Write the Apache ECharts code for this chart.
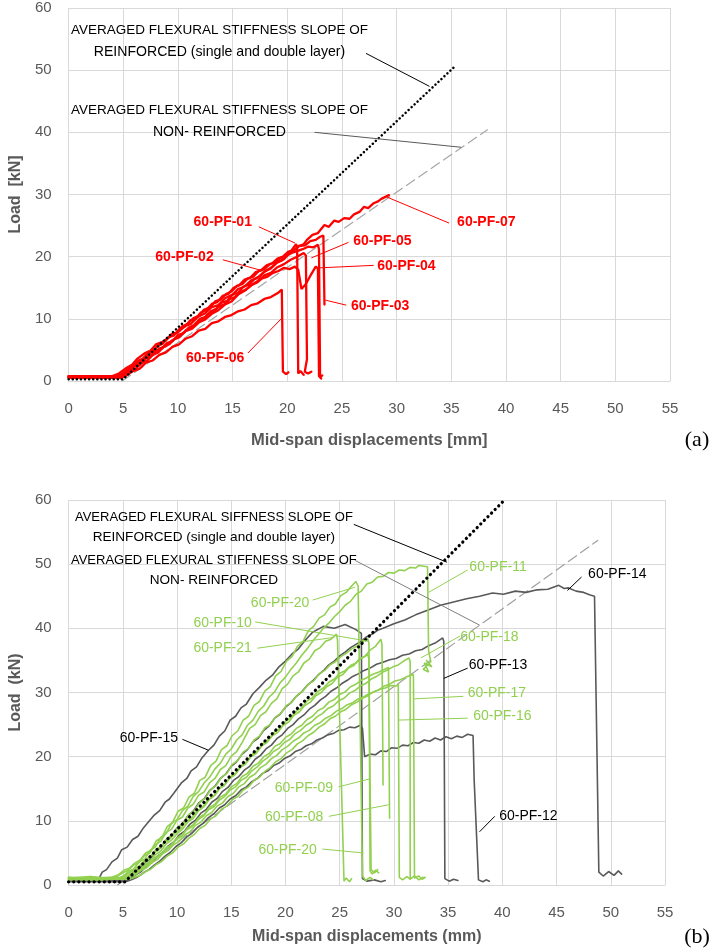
<!DOCTYPE html>
<html lang="en">
<head>
<meta charset="UTF-8">
<title>Load - mid-span displacement</title>
<script src="https://cdn.jsdelivr.net/npm/echarts@6/dist/echarts.min.js"></script>
<style>
    html, body { margin: 0; padding: 0; background: #ffffff; }
    #main { width: 717px; height: 952px; }
</style>
</head>
<body>
<div id="main"></div>
<script type="text/javascript">
// ---- axis ticks ----
var xTicks = [0, 55, 5];      // min, max, step (mm)
var yTicks = [0, 60, 10];     // min, max, step (kN)

// ---- (a) reference slopes ----
var aReinforced = [[0, 0.3], [5, 0.3], [35.2, 50.4]];
var aNonReinforced = [[4.9, 0], [38.3, 40.4]];

// ---- (a) red specimens ----
var pf01 = [[0,0.8],[4,0.8],[4.6,1.2],[5.2,2.0],[5.8,2.6],[6.3,3.6],[7,4.5],[7.5,4.9],[8,5.9],[8.6,6.3],[9.4,7.3],[10,7.8],[10.6,8.8],[11.2,9.2],[11.8,10.3],[12.5,10.9],[13.1,11.9],[13.7,12.2],[14.3,13.3],[15,13.9],[15.5,14.8],[16.1,15.2],[16.7,16.2],[17.3,16.6],[17.9,17.6],[18.5,18.1],[19.1,19.1],[19.7,19.6],[20.3,20.8],[20.8,22],[20.9,21.5],[21.0,1.2],[21.2,1.6],[21.5,1.0]];
var pf02 = [[0,0.6],[4.3,0.6],[4.8,1.0],[5.4,1.6],[6,2.4],[6.5,2.9],[7.1,3.8],[7.7,4.2],[8.3,5.2],[8.9,5.6],[9.5,6.6],[10.1,7.0],[10.7,8.0],[11.3,8.4],[11.9,9.4],[12.5,9.9],[13.1,10.8],[13.7,11.4],[14.3,12.3],[14.9,12.8],[15.5,13.9],[16.1,14.5],[16.7,15.4],[17.3,16.1],[17.9,17.0],[18.5,17.4],[19.1,18.3],[19.7,18.8],[20.3,19.5],[20.9,20.0],[21.5,20.6],[21.7,20.2],[21.8,3.5],[21.6,1.5],[21.9,1.2],[22.2,1.5]];
var pf03 = [[0,0.7],[4.6,0.7],[5.1,1.3],[5.6,1.8],[6.1,2.8],[6.6,3.2],[7.1,4.2],[7.6,4.6],[8.1,5.6],[8.6,6.0],[9.1,7.0],[9.6,7.3],[10.1,8.3],[10.6,8.7],[11.1,9.7],[11.6,10.0],[12.1,11.0],[12.6,11.4],[13.1,12.4],[13.6,12.7],[14.1,13.7],[14.6,14.0],[15.1,15.0],[15.6,15.4],[16.1,16.3],[16.6,16.6],[17.1,17.5],[17.6,17.8],[18.1,18.6],[18.6,18.9],[19.1,19.7],[19.6,20.0],[20.1,20.8],[20.6,21.0],[21.1,21.7],[21.6,21.8],[22.1,22.5],[22.6,22.7],[23.0,23.2],[23.3,23.4],[23.4,12.3]];
var pf04 = [[0,0.6],[4.7,0.6],[5.2,1.0],[5.7,1.6],[6.2,2.1],[6.7,2.9],[7.2,3.3],[7.7,4.2],[8.2,4.6],[8.7,5.5],[9.2,5.9],[9.7,6.8],[10.2,7.2],[10.7,8.1],[11.2,8.5],[11.7,9.4],[12.2,9.8],[12.7,10.7],[13.2,11.1],[13.7,11.9],[14.2,12.3],[14.7,13.1],[15.2,13.5],[15.7,14.3],[16.2,14.7],[16.7,15.4],[17.2,15.8],[17.7,16.5],[18.2,16.8],[18.7,17.4],[19.2,17.7],[19.7,18.2],[20.2,18.0],[20.7,18.4],[21.0,17.9],[21.3,14.8],[21.7,15.6],[22.1,16.9],[22.4,17.8],[22.6,18.4],[22.8,18.1],[22.9,0.8],[23.1,0.4]];
var pf05 = [[0,0.8],[4.4,0.7],[4.9,1.2],[5.4,1.9],[5.9,2.4],[6.4,3.3],[6.9,3.7],[7.4,4.7],[7.9,5.1],[8.4,6.1],[8.9,6.5],[9.4,7.5],[9.9,7.8],[10.4,8.8],[10.9,9.2],[11.4,10.1],[11.9,10.5],[12.4,11.5],[12.9,11.8],[13.4,12.8],[13.9,13.1],[14.4,14.0],[14.9,14.4],[15.4,15.3],[15.9,15.6],[16.4,16.5],[16.9,16.8],[17.4,17.7],[17.9,18.0],[18.4,18.8],[18.9,19.1],[19.4,19.8],[19.9,20.1],[20.4,20.6],[20.9,20.9],[21.4,21.2],[21.9,21.6],[22.4,21.5],[22.8,21.9],[22.9,21.2],[23.0,0.6],[23.2,0.9]];
var pf06 = [[0,0.5],[4.8,0.5],[5.3,0.9],[5.9,1.6],[6.5,2.0],[7.1,3.0],[7.7,3.3],[8.3,4.2],[8.9,4.6],[9.5,5.5],[10.1,5.9],[10.7,6.8],[11.3,7.2],[11.9,8.1],[12.5,8.4],[13.1,9.3],[13.7,9.6],[14.3,10.3],[14.9,10.6],[15.5,11.2],[16.1,11.5],[16.7,12.2],[17.3,12.5],[17.9,13.2],[18.5,13.5],[19.1,14.1],[19.5,14.7],[19.6,1.5],[19.9,1.1],[20.1,1.4]];
var pf07 = [[0,0.7],[2,0.6],[4.5,0.7],[5,1.2],[5.5,1.6],[6,2.4],[6.5,2.6],[7,3.6],[7.5,3.9],[8,4.9],[8.5,5.2],[9,6.1],[9.5,6.4],[10,7.4],[10.5,7.7],[11,8.6],[11.5,9.0],[12,10.0],[12.5,10.3],[13,11.2],[13.5,11.6],[14,12.6],[14.5,12.9],[15,13.9],[15.5,14.2],[16,15.2],[16.5,15.5],[17,16.4],[17.5,16.9],[18,17.7],[18.5,18.2],[19,19.0],[19.5,19.4],[20,20.4],[20.5,20.8],[21,21.7],[21.5,22.0],[21.8,22.7],[22.3,23.5],[22.8,23.8],[23.4,25.1],[23.8,24.8],[24.3,25.8],[24.7,25.6],[25.2,26.2],[25.7,26.1],[26.1,26.8],[26.6,27.2],[27,28],[27.4,27.8],[27.9,28.6],[28.3,28.9],[28.6,29.3],[29.3,29.9]];

// ---- (b) reference slopes ----
var bReinforced = [[0, 0.5], [5.2, 0.5], [40.2, 60]];
var bNonReinforced = [[4.5, 0], [48.8, 53.7]];

// ---- (b) green specimens ----
var pf08 = [[0,0.9],[3.5,1.1],[5,0.9],[5.5,1.2],[6,1.7],[6.5,2.1],[7,2.9],[7.5,3.4],[8,4.3],[8.5,4.8],[9,5.8],[9.5,6.3],[10,7.3],[10.5,7.9],[11,8.9],[11.5,9.4],[12,10.5],[12.5,11.0],[13,12.1],[13.5,12.6],[14,13.7],[14.5,14.2],[15,15.3],[15.5,15.8],[16,16.9],[16.5,17.4],[17,18.5],[17.5,19.0],[18,20.0],[18.5,20.5],[19,21.6],[19.5,22.0],[20,23.0],[20.5,23.5],[21,24.4],[21.5,24.9],[22,25.8],[22.5,26.3],[23,27.2],[23.5,27.6],[24,28.5],[24.5,28.9],[25,29.7],[25.5,30.1],[26,30.9],[26.5,31.3],[27,31.9],[27.5,32.3],[28,32.8],[28.5,33.1],[29,33.5],[29.5,33.9],[29.6,10.4]];
var pf09 = [[0,1.0],[3,0.8],[5,1.0],[5.5,1.4],[6,1.9],[6.5,2.3],[7,3.2],[7.5,3.7],[8,4.7],[8.5,5.3],[9,6.4],[9.5,7.0],[10,8.0],[10.5,8.7],[11,9.8],[11.5,10.4],[12,11.6],[12.5,12.2],[13,13.4],[13.5,14.0],[14,15.2],[14.5,15.8],[15,17.0],[15.5,17.5],[16,18.7],[16.5,19.3],[17,20.5],[17.5,21.0],[18,22.2],[18.5,22.8],[19,23.9],[19.5,24.4],[20,25.5],[20.5,26.1],[21,27.1],[21.5,27.6],[22,28.7],[22.5,29.2],[23,30.2],[23.5,30.7],[24,31.6],[24.5,32.1],[25,33.0],[25.5,33.4],[26,34.2],[26.5,34.6],[27,35.3],[27.6,35.9],[27.7,35.2],[27.8,16.4],[27.9,2.4],[28.2,1.9],[28.5,2.4]];
var pf10 = [[0,0.9],[2.5,1.1],[4.6,0.9],[5.1,1.4],[5.6,1.9],[6.1,2.6],[6.6,3.1],[7.1,4.0],[7.6,4.5],[8.1,5.6],[8.6,6.1],[9.1,7.3],[9.6,7.9],[10.1,9.1],[10.6,9.7],[11.1,11.0],[11.6,11.6],[12.1,12.9],[12.6,13.5],[13.1,14.9],[13.6,15.5],[14.1,16.8],[14.6,17.4],[15.1,18.8],[15.6,19.4],[16.1,20.7],[16.6,21.3],[17.1,22.6],[17.6,23.2],[18.1,24.5],[18.6,25.0],[19.1,26.2],[19.6,26.8],[20.1,28.0],[20.6,28.5],[21.1,29.6],[21.6,30.2],[22.1,31.3],[22.6,31.8],[23.1,32.9],[23.6,33.4],[24.1,34.3],[24.6,34.8],[25.1,35.6],[25.6,36.1],[26.1,36.8],[26.6,37.2],[27.1,37.9],[27.6,38.4],[27.7,37.6],[27.8,2.2],[28.0,1.7],[28.3,2.3],[28.6,1.9]];
var pf11 = [[0,1.0],[2,0.8],[4.5,1.0],[5,1.3],[5.5,2.1],[6,2.5],[6.5,3.6],[7,4.0],[7.5,5.4],[8,5.9],[8.5,7.4],[9,8.0],[9.5,9.6],[10,10.2],[10.5,11.6],[11,12.3],[11.5,13.8],[12,14.6],[12.5,15.9],[13,16.8],[13.5,18.1],[14,19.0],[14.5,20.4],[15,21.2],[15.5,22.6],[16,23.4],[16.5,24.9],[17,25.7],[17.5,27.1],[18,27.9],[18.5,29.3],[19,30.1],[19.5,31.5],[20,32.4],[20.5,33.6],[21,34.6],[21.5,35.8],[22,36.8],[22.5,38.0],[23,39.0],[23.5,40.0],[24,40.8],[24.5,41.8],[25,42.6],[25.5,43.6],[26,44.2],[26.5,45.3],[27,45.8],[27.5,46.9],[28,47.2],[28.5,48.0],[29,48.1],[29.5,48.7],[30,48.6],[30.5,49.1],[31,49.0],[31.5,49.5],[32,49.4],[32.3,49.8],[33.1,49.6],[33.2,36.5],[33.4,34.8],[32.7,33.6],[33.2,33.2],[32.8,34.6],[33.5,34.0],[33.0,35.0]];
var pf16 = [[0,1.1],[4,0.9],[5.2,1.0],[5.7,1.3],[6.2,1.6],[6.7,2.3],[7.2,2.7],[7.7,3.5],[8.2,4.0],[8.7,4.9],[9.2,5.4],[9.7,6.3],[10.2,6.8],[10.7,7.8],[11.2,8.3],[11.7,9.3],[12.2,9.8],[12.7,10.8],[13.2,11.3],[13.7,12.3],[14.2,12.8],[14.7,13.8],[15.2,14.3],[15.7,15.3],[16.2,15.8],[16.7,16.8],[17.2,17.3],[17.7,18.3],[18.2,18.8],[18.7,19.7],[19.2,20.2],[19.7,21.1],[20.2,21.6],[20.7,22.4],[21.2,22.9],[21.7,23.7],[22.2,24.1],[22.7,24.9],[23.2,25.3],[23.7,26.0],[24.2,26.4],[24.7,27.1],[25.2,27.5],[25.7,28.1],[26.2,28.4],[26.7,29.0],[27.2,29.3],[27.7,29.8],[28.2,30.1],[28.7,30.5],[29.2,30.7],[29.7,31.1],[30.2,31.0],[30.4,31.3],[30.5,1.2],[30.8,0.8],[31.2,1.3],[31.5,0.9]];
var pf17 = [[0,0.8],[4.4,1.0],[5.6,0.9],[6.1,1.2],[6.6,1.5],[7.1,2.1],[7.6,2.5],[8.1,3.2],[8.6,3.7],[9.1,4.5],[9.6,5.0],[10.1,5.9],[10.6,6.4],[11.1,7.3],[11.6,7.9],[12.1,8.8],[12.6,9.3],[13.1,10.3],[13.6,10.8],[14.1,11.8],[14.6,12.3],[15.1,13.3],[15.6,13.8],[16.1,14.8],[16.6,15.3],[17.1,16.3],[17.6,16.8],[18.1,17.7],[18.6,18.3],[19.1,19.2],[19.6,19.7],[20.1,20.6],[20.6,21.1],[21.1,22.0],[21.6,22.5],[22.1,23.3],[22.6,23.8],[23.1,24.6],[23.6,25.1],[24.1,25.9],[24.6,26.3],[25.1,27.0],[25.6,27.4],[26.1,28.1],[26.6,28.5],[27.1,29.1],[27.6,29.5],[28.1,30.1],[28.6,30.4],[29.1,31.0],[29.6,31.3],[30.1,31.8],[30.6,32.0],[31.1,32.4],[31.8,32.8],[31.9,1.1],[32.3,1.4],[32.6,0.9],[32.9,1.2]];
var pf18 = [[0,1.0],[4.2,1.2],[5.4,1.1],[5.9,1.5],[6.4,2.0],[6.9,2.7],[7.4,3.2],[7.9,4.1],[8.4,4.6],[8.9,5.5],[9.4,6.1],[9.9,7.0],[10.4,7.6],[10.9,8.6],[11.4,9.1],[11.9,10.1],[12.4,10.7],[12.9,11.7],[13.4,12.2],[13.9,13.2],[14.4,13.8],[14.9,14.8],[15.4,15.3],[15.9,16.3],[16.4,16.8],[16.9,17.8],[17.4,18.4],[17.9,19.3],[18.4,19.9],[18.9,20.8],[19.4,21.3],[19.9,22.2],[20.4,22.7],[20.9,23.6],[21.4,24.1],[21.9,24.9],[22.4,25.4],[22.9,26.2],[23.4,26.7],[23.9,27.5],[24.4,27.9],[24.9,28.7],[25.4,29.1],[25.9,29.9],[26.4,30.3],[26.9,31.0],[27.4,31.4],[27.9,32.1],[28.4,32.5],[28.9,33.1],[29.4,33.5],[29.9,34.0],[30.4,34.3],[30.9,34.9],[31.4,35.4],[31.5,34.8],[31.5,0.9],[31.9,1.4],[32.3,0.8],[32.7,1.2]];
var pf19 = [[0,1.2],[3,1.0],[4.8,1.2],[5.3,1.5],[5.8,2.1],[6.3,2.5],[6.8,3.4],[7.3,3.9],[7.8,4.9],[8.3,5.5],[8.8,6.5],[9.3,7.1],[9.8,8.1],[10.3,8.7],[10.8,9.8],[11.3,10.4],[11.8,11.5],[12.3,12.0],[12.8,13.2],[13.3,13.7],[13.8,14.9],[14.3,15.4],[14.8,16.6],[15.3,17.1],[15.8,18.3],[16.3,18.8],[16.8,20.0],[17.3,20.5],[17.8,21.7],[18.3,22.2],[18.8,23.3],[19.3,23.8],[19.8,24.9],[20.3,25.4],[20.8,26.5],[21.3,27.0],[21.8,28.0],[22.3,28.5],[22.8,29.5],[23.3,30.0],[23.8,30.9],[24.3,31.4],[24.8,32.4],[25.3,32.8],[25.8,33.8],[26.3,34.2],[26.8,35.2],[27.3,35.6],[27.8,36.6],[28.3,37.2],[28.8,38.3],[28.9,37.5],[29.0,15.6]];
var pf20 = [[0,1.2],[1,0.9],[2,1.3],[3,1.0],[4,1.2],[4.6,1.6],[5.1,2.3],[5.6,2.6],[6.1,3.4],[6.6,3.9],[7.1,5.0],[7.6,5.4],[8.1,6.9],[8.6,7.4],[9.1,9.1],[9.6,9.8],[10.1,11.5],[10.6,12.0],[11.1,13.7],[11.6,14.3],[12.1,16.3],[12.6,16.8],[13.1,18.6],[13.6,19.3],[14.1,21.1],[14.6,21.7],[15.1,23.3],[15.6,24.0],[16.1,25.7],[16.6,26.3],[17.1,28.0],[17.6,28.6],[18.1,30.2],[18.6,30.9],[19.1,32.6],[19.6,33.3],[20.1,34.9],[20.6,35.6],[21.1,37.2],[21.6,37.9],[22.1,39.6],[22.6,40.3],[23.1,41.6],[23.6,42.1],[24.1,43.3],[24.6,43.8],[25.1,45.1],[25.6,45.6],[26.1,46.6],[26.5,47.3],[26.7,46.6],[27.1,1.4],[27.4,0.7],[27.8,1.2],[28.1,0.8]];
var pf21 = [[0,1.1],[2,1.3],[4,1.0],[4.5,1.4],[5,1.9],[5.5,2.3],[6,3.1],[6.5,3.5],[7,4.6],[7.5,5.0],[8,6.3],[8.5,6.8],[9,8.2],[9.5,8.7],[10,10.1],[10.5,10.6],[11,12.0],[11.5,12.6],[12,14.0],[12.5,14.5],[13,15.9],[13.5,16.6],[14,18.0],[14.5,18.6],[15,20.1],[15.5,20.8],[16,22.2],[16.7,24.4],[17.2,25.0],[17.7,26.4],[18.2,27.0],[18.7,28.3],[19.2,29.0],[19.7,30.6],[20.2,31.3],[20.7,32.6],[21.2,33.2],[21.7,34.6],[22.2,35.2],[22.7,36.5],[23.2,37.0],[23.7,38.0],[24.2,38.3],[24.7,39.1],[24.8,38.2],[25.4,0.6],[25.6,1.1],[25.9,0.5],[26.1,1.0]];

// ---- (b) grey specimens ----
var pf12 = [[0,0.6],[4.6,0.5],[5.4,0.6],[5.9,0.9],[6.4,1.3],[6.9,1.9],[7.4,2.4],[7.9,3.1],[8.4,3.7],[8.9,4.5],[9.4,5.1],[9.9,6.0],[10.4,6.6],[10.9,7.5],[11.4,8.1],[11.9,9.0],[12.4,9.6],[12.9,10.5],[13.4,11.1],[13.9,12.0],[14.4,12.5],[14.9,13.4],[15.4,13.9],[15.9,14.8],[16.4,15.3],[16.9,16.1],[17.4,16.6],[17.9,17.4],[18.4,17.8],[18.9,18.6],[19.4,19.0],[19.9,19.7],[20.4,20.1],[20.9,20.8],[21.4,21.1],[21.9,21.7],[22.4,22.0],[22.9,22.6],[23.4,22.9],[23.9,23.4],[24.4,23.6],[24.9,24.1],[25.4,24.2],[25.9,24.6],[26.4,24.5],[26.9,24.9],[27.1,24.4],[27.3,20.0],[27.8,20.4],[28.3,20.3],[28.8,20.9],[29.3,20.8],[29.8,21.4],[30.3,21.3],[30.8,21.8],[31.3,21.7],[31.8,22.2],[32.3,22.1],[32.8,22.6],[33.3,22.4],[33.8,22.9],[34.3,22.6],[34.8,23.1],[35.3,22.8],[35.8,23.2],[36.3,23.0],[36.8,23.5],[37.3,23.3],[37.4,16.4],[37.8,0.8],[38.2,0.5],[38.5,0.8],[38.8,0.6]];
var pf13 = [[0,0.5],[4.5,0.6],[5.2,0.5],[5.7,1.0],[6.2,1.6],[6.7,2.1],[7.2,3.0],[7.7,3.5],[8.2,4.5],[8.7,5.1],[9.2,6.1],[9.7,6.7],[10.2,7.8],[10.7,8.4],[11.2,9.5],[11.7,10.1],[12.2,11.2],[12.7,11.8],[13.2,12.9],[13.7,13.5],[14.2,14.6],[14.7,15.2],[15.2,16.3],[15.7,16.9],[16.2,17.9],[16.7,18.5],[17.2,19.6],[17.7,20.2],[18.2,21.2],[18.7,21.8],[19.2,22.8],[19.7,23.4],[20.2,24.4],[20.7,25.0],[21.2,25.9],[21.7,26.5],[22.2,27.4],[22.7,28.0],[23.2,28.8],[23.7,29.4],[24.2,30.2],[24.7,30.7],[25.2,31.4],[25.7,31.9],[26.2,32.5],[26.7,32.9],[27.2,33.4],[27.8,33.8],[28.4,34.4],[29,34.7],[29.6,35.1],[30.2,35.3],[30.8,35.8],[31.4,36.0],[32.0,36.5],[32.6,36.7],[33.2,37.3],[33.8,37.7],[34.5,38.5],[34.6,38.0],[34.7,1.0],[35.1,0.6],[35.5,0.9],[35.9,0.7]];
var pf14 = [[0,0.8],[3,0.6],[5,0.8],[5.5,1.3],[6,2.0],[6.5,2.5],[7,3.5],[7.5,4.0],[8,5.2],[8.5,5.8],[9,7.0],[9.5,7.6],[10,8.9],[10.5,9.5],[11,10.8],[11.5,11.5],[12,12.8],[12.5,13.4],[13,14.7],[13.5,15.4],[14,16.6],[14.5,17.3],[15,18.5],[15.5,19.2],[16,20.4],[16.5,21.1],[17,22.3],[17.5,22.9],[18,24.1],[18.5,24.8],[19,26.0],[19.5,26.6],[20,27.7],[20.5,28.4],[21,29.4],[21.5,30.1],[22,31.1],[22.5,31.8],[23,32.7],[23.5,33.4],[24,34.3],[24.5,34.9],[25,35.7],[25.5,36.3],[26,37.0],[26.5,37.5],[27,38.0],[27.5,38.7],[28,39.1],[28.5,39.7],[29,40.0],[30,40.7],[31,41.3],[32,42.1],[33.1,42.8],[34.3,43.6],[35.5,44.1],[36.7,44.6],[37.9,45.0],[39.1,45.5],[40.1,45.3],[41.2,45.8],[42.2,45.6],[43.2,46.0],[44.2,46.1],[45.2,46.7],[45.7,46.2],[46.1,46.3],[46.8,45.8],[47.5,45.6],[48.1,45.2],[48.5,45.0],[48.9,2.0],[49.3,1.4],[49.8,2.1],[50.3,1.5],[50.7,2.2],[51.0,1.7]];
var pf15 = [[0,1.0],[2.8,1.0],[3.1,2.0],[3.5,2.4],[4,3.6],[4.5,4.2],[4.9,5.5],[5.4,5.9],[5.9,7.1],[6.4,7.6],[6.9,8.9],[7.3,9.7],[7.9,10.9],[8.4,11.6],[8.9,12.9],[9.3,13.4],[9.7,14.3],[10.4,15.9],[10.9,16.6],[11.3,17.8],[11.8,18.4],[12.3,19.8],[12.9,21.0],[13.4,21.8],[13.9,23.2],[14.4,24.0],[14.9,25.7],[15.4,26.3],[15.9,27.6],[16.4,28.2],[17.0,29.8],[17.6,30.8],[18.2,31.9],[18.8,32.7],[19.4,34.0],[20,34.9],[20.6,36.0],[21.2,36.8],[21.8,38.1],[22.5,39.4],[23.5,40.3],[24.5,40.0],[25.5,40.6],[26.5,39.8],[27.0,39.2],[27.1,1.0],[27.5,0.6],[28.2,0.8],[28.8,0.5],[29.2,0.7]];

// ---- annotations: text, label x/y, leader from x/y, leader to x/y (data units) ----
var notesA = [
    ['AVERAGED FLEXURAL STIFFNESS SLOPE OF\nREINFORCED (single and double layer)', 13.8, 54.7, 27.2, 52.7, 33.0, 47.4, 'block', '#000000'],
    ['AVERAGED FLEXURAL STIFFNESS SLOPE OF\nNON- REINFORCED', 13.8, 41.8, 22.5, 40.0, 35.9, 37.6, 'block', '#595959'],
    ['60-PF-01', 14.1, 25.6, 17.4, 24.8, 20.7, 22.2, 'red'],
    ['60-PF-02', 10.6, 19.9, 14.1, 19.5, 17.6, 17.8, 'red'],
    ['60-PF-06', 13.4, 3.7, 16.4, 4.5, 19.5, 10.1, 'red'],
    ['60-PF-05', 28.7, 22.5, 25.6, 22.3, 22.2, 19.8, 'red'],
    ['60-PF-04', 30.9, 18.5, 27.9, 18.6, 22.9, 18.2, 'red'],
    ['60-PF-03', 28.5, 12.1, 25.4, 12.2, 23.5, 13.0, 'red'],
    ['60-PF-07', 38.2, 25.6, 34.8, 25.4, 29.1, 29.6, 'red']
];
var notesB = [
    ['AVERAGED FLEXURAL SIFFNESS SLOPE OF\nREINFORCED (single and double layer)', 13.4, 55.8, 26.3, 56.2, 34.9, 50.3, 'block', '#000000'],
    ['AVERAGED FLEXURAL STIFFNESS SLOPE OF\nNON- REINFORCED', 13.4, 49.1, 26.4, 50.6, 37.9, 40.5, 'block', '#7f7f7f'],
    ['60-PF-11', 39.6, 49.5, 36.8, 49.1, 33.2, 45.6, 'green'],
    ['60-PF-14', 50.6, 48.4, 47.3, 48.0, 46.0, 45.9, 'grey'],
    ['60-PF-18', 38.8, 38.6, 36.1, 38.8, 32.5, 35.4, 'green'],
    ['60-PF-13', 39.6, 34.3, 36.8, 33.8, 34.6, 32.2, 'grey'],
    ['60-PF-17', 39.5, 29.9, 36.4, 29.4, 31.8, 29.0, 'green'],
    ['60-PF-16', 40.0, 26.3, 36.8, 26.0, 30.4, 25.7, 'green'],
    ['60-PF-20', 19.5, 43.9, 22.5, 44.4, 26.4, 46.4, 'green'],
    ['60-PF-10', 14.2, 40.8, 17.2, 41.0, 27.6, 38.0, 'green'],
    ['60-PF-21', 14.2, 36.9, 17.4, 36.9, 24.5, 38.6, 'green'],
    ['60-PF-15', 7.4, 22.9, 10.5, 22.7, 12.9, 21.0, 'grey'],
    ['60-PF-09', 21.7, 15.1, 24.9, 15.3, 27.7, 16.5, 'green'],
    ['60-PF-08', 20.8, 10.6, 24.0, 10.7, 29.5, 12.5, 'green'],
    ['60-PF-20', 20.2, 5.5, 23.4, 5.6, 27.2, 5.0, 'green'],
    ['60-PF-12', 42.4, 10.7, 39.3, 10.7, 37.9, 8.3, 'grey']
];

var RED = '#ff0000', GREEN = '#92d050', GREY = '#595959';
var FONT = '"Liberation Sans", Arial, sans-serif';

var chart = echarts.init(document.getElementById('main'));

function xAxisCfg(grid, name, gap, nameSize) {
    return {
        type: 'value', gridIndex: grid, min: xTicks[0], max: xTicks[1], interval: xTicks[2],
        name: name, nameLocation: 'middle', nameGap: gap,
        nameTextStyle: { color: GREY, fontWeight: 'bold', fontSize: nameSize, fontFamily: FONT },
        axisLine: { show: true, lineStyle: { color: '#d9d9d9', width: 1 } },
        axisTick: { show: false },
        axisLabel: { color: GREY, fontSize: 15, fontFamily: FONT, margin: 20 },
        splitLine: { show: true, lineStyle: { color: '#d9d9d9', width: 1 } }
    };
}
function yAxisCfg(grid, name) {
    return {
        type: 'value', gridIndex: grid, min: yTicks[0], max: yTicks[1], interval: yTicks[2],
        name: name, nameLocation: 'middle', nameGap: 25,
        nameTextStyle: { color: GREY, fontWeight: 'bold', fontSize: 16, fontFamily: FONT },
        axisLine: { show: false }, axisTick: { show: false },
        axisLabel: { color: GREY, fontSize: 15, fontFamily: FONT, margin: 17 },
        splitLine: { show: true, lineStyle: { color: '#d9d9d9', width: 1 } }
    };
}
function line(name, data, grid, color, width, dash, z) {
    return {
        name: name, type: 'line', xAxisIndex: grid, yAxisIndex: grid, data: data,
        symbol: 'none', silent: true, z: z || 2,
        lineStyle: { color: color, width: width, type: dash || 'solid', cap: 'round' }
    };
}

var series = [
    line('60-PF-01', pf01, 0, RED, 2.3),
    line('60-PF-02', pf02, 0, RED, 2.3),
    line('60-PF-03', pf03, 0, RED, 2.3),
    line('60-PF-04', pf04, 0, RED, 2.3),
    line('60-PF-05', pf05, 0, RED, 2.3),
    line('60-PF-06', pf06, 0, RED, 2.3),
    line('60-PF-07', pf07, 0, RED, 2.3),
    line('reinforced slope (a)', aReinforced, 0, '#000000', 2.5, [0.1, 4], 5),
    line('non-reinforced slope (a)', aNonReinforced, 0, '#a6a6a6', 1.2, [10, 5], 1),

    line('60-PF-12', pf12, 1, GREY, 1.6),
    line('60-PF-13', pf13, 1, GREY, 1.6),
    line('60-PF-14', pf14, 1, GREY, 1.6),
    line('60-PF-15', pf15, 1, GREY, 1.6),
    line('60-PF-08', pf08, 1, GREEN, 1.6, null, 3),
    line('60-PF-09', pf09, 1, GREEN, 1.6, null, 3),
    line('60-PF-10', pf10, 1, GREEN, 1.6, null, 3),
    line('60-PF-11', pf11, 1, GREEN, 1.6, null, 3),
    line('60-PF-16', pf16, 1, GREEN, 1.6, null, 3),
    line('60-PF-17', pf17, 1, GREEN, 1.6, null, 3),
    line('60-PF-18', pf18, 1, GREEN, 1.6, null, 3),
    line('green (unlabelled)', pf19, 1, GREEN, 1.6, null, 3),
    line('60-PF-20', pf20, 1, GREEN, 1.6, null, 3),
    line('60-PF-21', pf21, 1, GREEN, 1.6, null, 3),
    line('reinforced slope (b)', bReinforced, 1, '#000000', 3.2, [0.1, 5], 5),
    line('non-reinforced slope (b)', bNonReinforced, 1, '#a0a0a0', 1.2, [10, 5], 1)
];

chart.setOption({
    animation: false,
    grid: [
        { left: 63, top: 8, width: 607, height: 373 },
        { left: 63, top: 500, width: 602, height: 385 }
    ],
    xAxis: [
        xAxisCfg(0, 'Mid-span displacements [mm]', 51, 16.5),
        xAxisCfg(1, 'Mid-span displacements (mm)', 44, 16)
    ],
    yAxis: [
        yAxisCfg(0, 'Load  [kN]'),
        yAxisCfg(1, 'Load  (kN)')
    ],
    series: series
});

// labels and leader lines, placed through the chart's own coordinate system
function buildNotes(notes, grid, blockSize, blockLine) {
    var out = [];
    notes.forEach(function (n) {
        var p = chart.convertToPixel({ gridIndex: grid }, [n[1], n[2]]);
        var a = chart.convertToPixel({ gridIndex: grid }, [n[3], n[4]]);
        var b = chart.convertToPixel({ gridIndex: grid }, [n[5], n[6]]);
        var kind = n[7];
        var fill, lead, size = 14, weight = 'normal';
        if (kind === 'block') { fill = '#000000'; lead = n[8]; size = blockSize; }
        else if (kind === 'red') { fill = RED; lead = RED; weight = 'bold'; }
        else if (kind === 'green') { fill = GREEN; lead = GREEN; }
        else { fill = '#000000'; lead = '#000000'; }
        out.push({
            type: 'line', silent: true, z: 10,
            shape: { x1: a[0], y1: a[1], x2: b[0], y2: b[1] },
            style: { stroke: lead, lineWidth: 1 }
        });
        if (kind === 'block') {
            // two centred lines; the second one a touch larger, as in the source figure
            var rows = n[0].split('\n');
            out.push({ type: 'text', silent: true, z: 11, x: p[0], y: p[1] - blockLine / 2,
                style: { text: rows[0], fill: fill, fontSize: size, fontFamily: FONT, align: 'center', verticalAlign: 'middle' } });
            out.push({ type: 'text', silent: true, z: 11, x: p[0], y: p[1] + blockLine / 2,
                style: { text: rows[1], fill: fill, fontSize: size + 0.6, fontFamily: FONT, align: 'center', verticalAlign: 'middle' } });
            return;
        }
        out.push({
            type: 'text', silent: true, z: 11, x: p[0], y: p[1],
            style: { text: n[0], fill: fill, fontSize: size, fontWeight: weight, fontFamily: FONT, align: 'center', verticalAlign: 'middle' }
        });
    });
    return out;
}

var graphics = buildNotes(notesA, 0, 13.5, 22).concat(buildNotes(notesB, 1, 13, 20));
graphics.push({ type: 'text', silent: true, x: 697, y: 440,
    style: { text: '(a)', fill: '#000', fontSize: 22, fontFamily: '"Liberation Serif", "Times New Roman", serif', align: 'center', verticalAlign: 'middle' } });
graphics.push({ type: 'text', silent: true, x: 697, y: 937,
    style: { text: '(b)', fill: '#000', fontSize: 22, fontFamily: '"Liberation Serif", "Times New Roman", serif', align: 'center', verticalAlign: 'middle' } });

chart.setOption({ graphic: graphics });
</script>
</body>
</html>
